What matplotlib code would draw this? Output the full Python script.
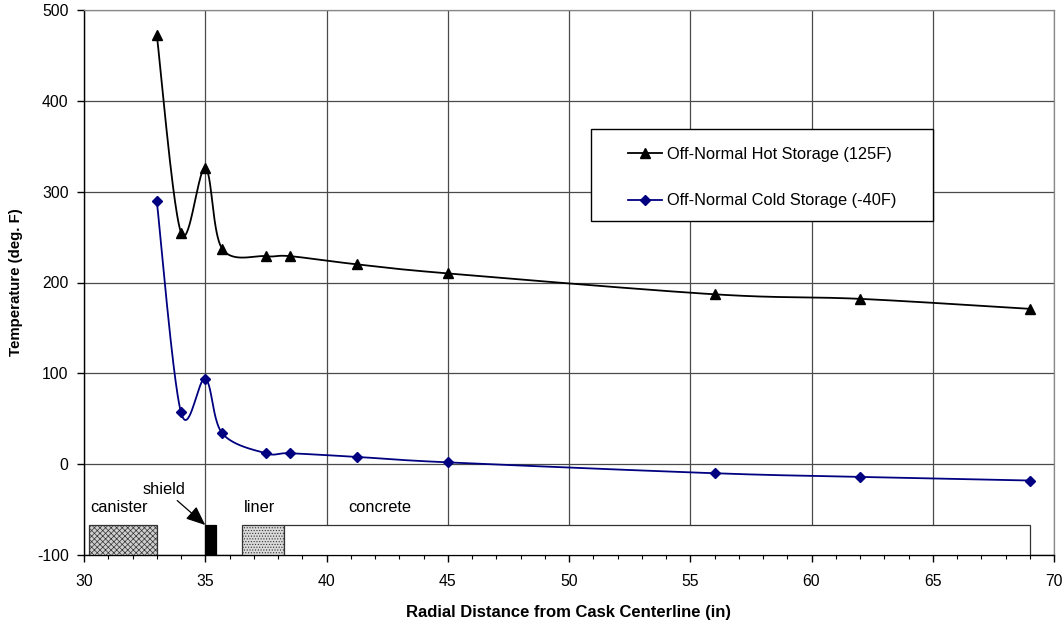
import numpy as np
import matplotlib
matplotlib.use("Agg")
import matplotlib.pyplot as plt
from matplotlib.patches import Rectangle

plt.rcParams['font.family'] = ['Liberation Sans', 'DejaVu Sans']
plt.rcParams['axes.unicode_minus'] = False

# ---- data ----
radius = [33, 34, 35, 35.7, 37.5, 38.5, 41.25, 45, 56, 62, 69]
hot_temp = [473, 255, 326, 237, 229, 229, 220, 210, 187, 182, 171]
cold_temp = [290, 57, 94, 34, 12, 12, 8, 2, -10, -14, -18]
hot_label = 'Off-Normal Hot Storage (125F)'
cold_label = 'Off-Normal Cold Storage (-40F)'

# component bands (x start, x end, name)
bands = [(30.2, 33.0, 'canister'), (35.0, 35.45, 'shield'),
         (36.5, 38.25, 'liner'), (38.25, 69.0, 'concrete')]
band_bottom, band_top = -100, -67

xticks = [30, 35, 40, 45, 50, 55, 60, 65, 70]
yticks = [-100, 0, 100, 200, 300, 400, 500]


def excel_smooth(x, y, n=40):
    x = np.asarray(x, float); y = np.asarray(y, float)
    P = np.column_stack([x, y])
    out = []
    m = len(P)
    for i in range(m - 1):
        p0 = P[i - 1] if i > 0 else P[i]
        p1 = P[i]
        p2 = P[i + 1]
        p3 = P[i + 2] if i + 2 < m else P[i + 1]
        c1 = p1 + (p2 - p0) / 6.0
        c2 = p2 - (p3 - p1) / 6.0
        t = np.linspace(0, 1, n)[:, None]
        seg = ((1 - t) ** 3) * p1 + 3 * ((1 - t) ** 2) * t * c1 + 3 * (1 - t) * t ** 2 * c2 + t ** 3 * p2
        out.append(seg if i == 0 else seg[1:])
    s = np.vstack(out)
    return s[:, 0], s[:, 1]


W, H = 1063, 623
fig = plt.figure(figsize=(W / 100, H / 100), dpi=100)
L, R, T, B = 84, 1054, 10, 555
ax = fig.add_axes([L / W, 1 - B / H, (R - L) / W, (B - T) / H])

ax.set_xlim(30, 70)
ax.set_ylim(-100, 500)
ax.set_xticks(xticks)
ax.set_yticks(yticks)
ax.set_xticks(np.arange(30, 71, 1), minor=True)
ax.grid(True, which='major', color='#4a4a4a', linewidth=0.9)
ax.set_axisbelow(True)
for s in ['top', 'right']:
    ax.spines[s].set_color('#888888')
    ax.spines[s].set_linewidth(0.9)
for s in ['left', 'bottom']:
    ax.spines[s].set_color('black')
    ax.spines[s].set_linewidth(1.0)
ax.tick_params(axis='both', which='major', direction='out', length=5, width=1, labelsize=11.3)
ax.tick_params(axis='x', which='major', pad=8.5)
ax.tick_params(axis='y', which='major', pad=6)
ax.tick_params(axis='x', which='minor', direction='out', length=3, width=0.8)

# bands
plt.rcParams['hatch.color'] = '#a8a8a8'
plt.rcParams['hatch.linewidth'] = 0.5
styles = {
    'canister': dict(facecolor='#cfcfcf', edgecolor='#333333', hatch='xxxxxx'),
    'shield': dict(facecolor='black', edgecolor='black'),
    'liner': dict(facecolor='#dadada', edgecolor='#333333', hatch='......'),
    'concrete': dict(facecolor='white', edgecolor='#333333'),
}
for x0, x1, name in bands:
    ax.add_patch(Rectangle((x0, band_bottom), x1 - x0, band_top - band_bottom,
                           linewidth=0.9, zorder=3, **styles[name]))

lab_fs = 11.8
ax.text(30.25, -56, 'canister', fontsize=lab_fs, ha='left', va='bottom')
ax.text(36.6, -56, 'liner', fontsize=lab_fs, ha='left', va='bottom')
ax.text(40.9, -56, 'concrete', fontsize=lab_fs, ha='left', va='bottom')
ax.annotate('shield', xy=(35.0, band_top), xytext=(34.2, -36),
            fontsize=lab_fs, ha='right', va='bottom',
            arrowprops=dict(arrowstyle='-|>,head_length=1.0,head_width=0.42',
                            color='black', lw=0.9, shrinkA=1, shrinkB=0),
            zorder=4)

# lines
hx, hy = excel_smooth(radius, hot_temp)
cx, cy = excel_smooth(radius, cold_temp)
ax.plot(hx, hy, color='black', lw=1.3, zorder=4)
ax.plot(cx, cy, color='#000080', lw=1.3, zorder=4)
ax.plot(radius, hot_temp, linestyle='none', marker='^', color='black', markersize=7, zorder=5)
ax.plot(radius, cold_temp, linestyle='none', marker='D', color='#000080', markersize=5, zorder=5)

# legend (box drawn manually)
h1, = ax.plot([], [], color='black', lw=1.3, marker='^', markersize=7)
h2, = ax.plot([], [], color='#000080', lw=1.3, marker='D', markersize=5)
fig.patches.append(Rectangle((591 / W, 1 - 221 / H), (933 - 591) / W, (221 - 129) / H,
                             transform=fig.transFigure, facecolor='white',
                             edgecolor='black', linewidth=1.0, zorder=6))
leg = fig.legend([h1, h2], [hot_label, cold_label], loc='upper left',
                 bbox_to_anchor=(628 / W, 1 - 147 / H), frameon=False,
                 fontsize=11.8, handlelength=2.07, handletextpad=0.3,
                 labelspacing=1.92, borderpad=0, borderaxespad=0)
leg.set_zorder(7)

ax.set_xlabel('Radial Distance from Cask Centerline (in)', fontsize=12, fontweight='bold', labelpad=12)
ax.set_ylabel('Temperature (deg. F)', fontsize=10.8, fontweight='bold', labelpad=10)

fig.savefig('out.png', dpi=100)
